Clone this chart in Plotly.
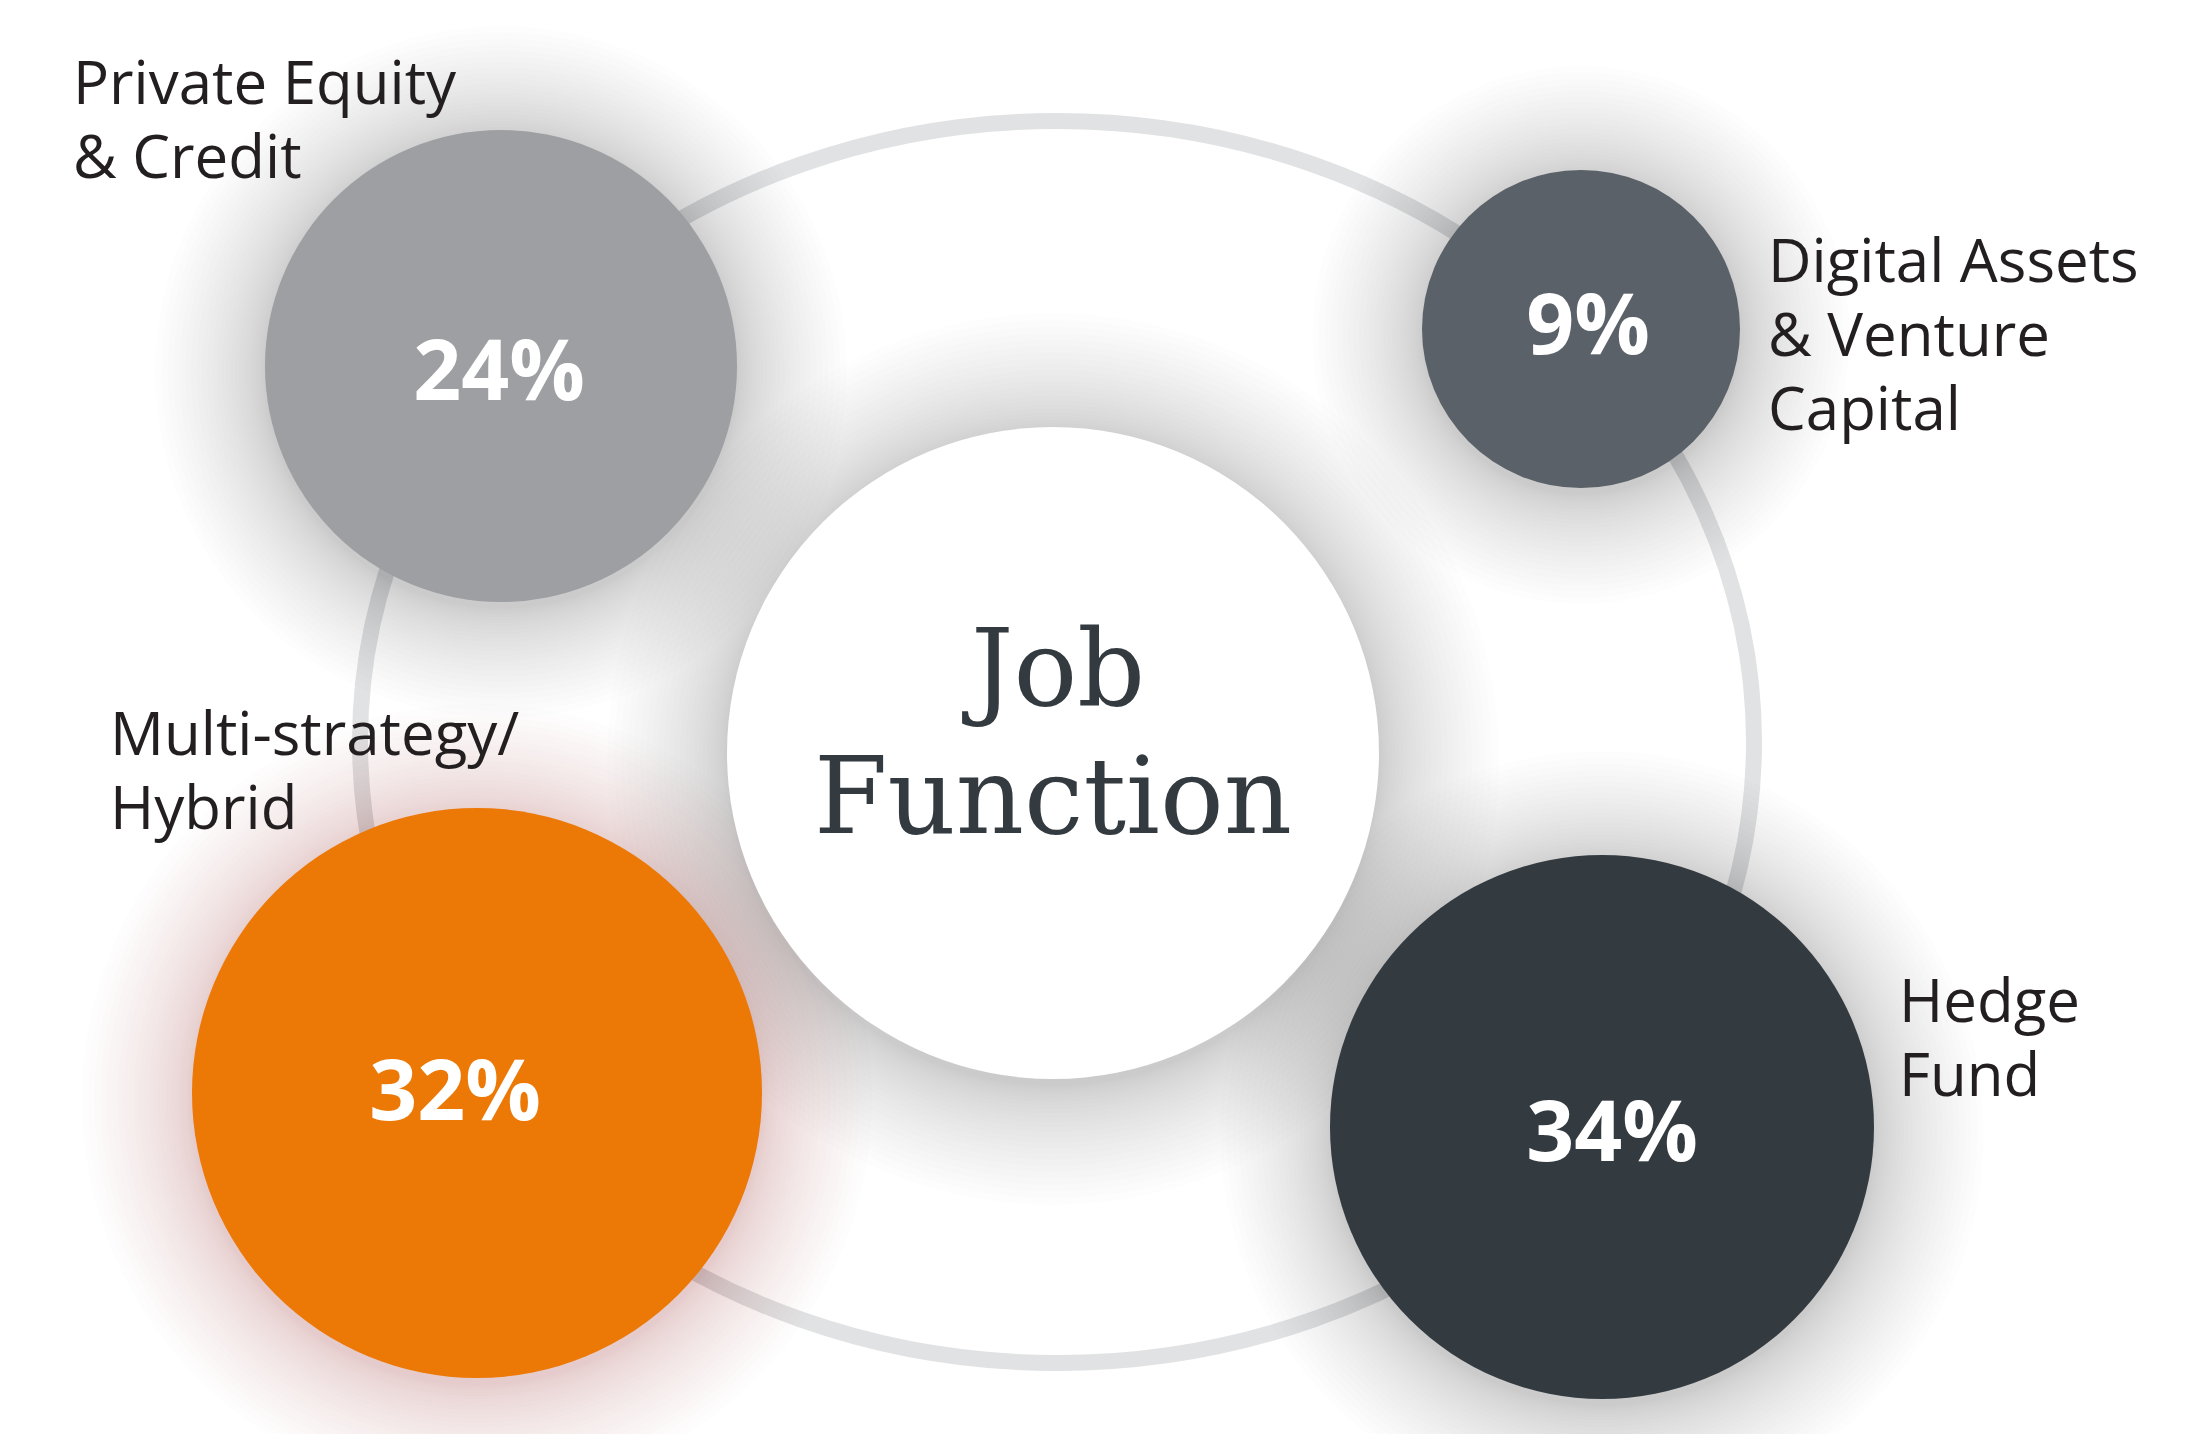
import plotly.graph_objects as go

# ---------------- data ----------------
categories = ["Private Equity<br>& Credit",
              "Digital Assets<br>& Venture<br>Capital",
              "Multi-strategy/<br>Hybrid",
              "Hedge<br>Fund"]
shares = [24, 9, 32, 34]
colors = ["#9d9fa2", "#5b6168", "#ec7806", "#343b40"]
center_title = ["Job", "Function"]

# ---------------- layout geometry (pixels, y downward) ----------------
W, H = 2201, 1434
bubble_x = [501, 1581, 477, 1602]
bubble_y = [366, 329, 1093, 1127]
bubble_r = [236, 159, 285, 272]
shadow_rgb = ["0,0,0", "0,0,0", "150,45,60", "0,0,0"]
pct_x = [499, 1588, 455, 1612]
pct_baseline = [400, 354, 1120, 1161]
label_x = [71, 1766, 108, 1897]
label_baseline = [104, 282, 755, 1022]
LINE_STEP = 74
center_x, center_y, center_r = 1053, 753, 326
ring = dict(cx=1057, cy=742, rx=697, ry=621)
title_baseline = [705, 833]

LABEL_SIZE = 60
PCT_SIZE = 84
TITLE_SIZE = 106

fig = go.Figure()
shapes = []

# ring
shapes.append(dict(type="circle", xref="x", yref="y",
                   x0=ring["cx"] - ring["rx"], x1=ring["cx"] + ring["rx"],
                   y0=ring["cy"] - ring["ry"], y1=ring["cy"] + ring["ry"],
                   line=dict(color="#e1e2e3", width=16), fillcolor="rgba(0,0,0,0)",
                   layer="below"))


def shadow(cx, cy, r, rgb, n=26, spread=110, alpha=0.0095, dy=6):
    out = []
    for k in range(n, 0, -1):
        rr = r + spread * (k / n) ** 1.5
        out.append(dict(type="circle", xref="x", yref="y",
                        x0=cx - rr, x1=cx + rr, y0=cy - rr + dy, y1=cy + rr + dy,
                        line=dict(width=0), fillcolor=f"rgba({rgb},{alpha})",
                        layer="below"))
    return out


shapes += shadow(center_x, center_y, center_r, "0,0,0", alpha=0.009, spread=120)
for i in range(len(shares)):
    a = 0.011 if i == 2 else 0.0095
    shapes += shadow(bubble_x[i], bubble_y[i], bubble_r[i], shadow_rgb[i], alpha=a)

# center white circle
shapes.append(dict(type="circle", xref="x", yref="y",
                   x0=center_x - center_r, x1=center_x + center_r,
                   y0=center_y - center_r, y1=center_y + center_r,
                   line=dict(width=0), fillcolor="#ffffff", layer="below"))
# bubbles
for i in range(len(shares)):
    shapes.append(dict(type="circle", xref="x", yref="y",
                       x0=bubble_x[i] - bubble_r[i], x1=bubble_x[i] + bubble_r[i],
                       y0=bubble_y[i] - bubble_r[i], y1=bubble_y[i] + bubble_r[i],
                       line=dict(width=0), fillcolor=colors[i], layer="below"))

# percentages
fig.add_trace(go.Scatter(
    x=pct_x, y=[b - 0.25 * PCT_SIZE for b in pct_baseline],
    mode="text", text=[f"{v}%" for v in shares], textposition="middle center",
    textfont=dict(family="Open Sans", size=PCT_SIZE, color="#ffffff", weight=700),
    hoverinfo="skip", showlegend=False, cliponaxis=False))

annotations = []
for i, cat in enumerate(categories):
    for j, line in enumerate(cat.split("<br>")):
        annotations.append(dict(
            x=label_x[i], y=label_baseline[i] + j * LINE_STEP - 0.388 * LABEL_SIZE,
            xref="x", yref="y", text=line, showarrow=False,
            xanchor="left", yanchor="middle", align="left",
            font=dict(family="Open Sans", size=LABEL_SIZE, color="#231f20")))

for j, line in enumerate(center_title):
    annotations.append(dict(
        x=center_x, y=title_baseline[j] - 0.346 * TITLE_SIZE,
        xref="x", yref="y", text=line, showarrow=False,
        xanchor="center", yanchor="middle",
        font=dict(family="DejaVu Serif", size=TITLE_SIZE, color="#343b40")))

fig.update_layout(
    width=W, height=H, margin=dict(l=0, r=0, t=0, b=0),
    paper_bgcolor="#ffffff", plot_bgcolor="#ffffff",
    xaxis=dict(range=[0, W], visible=False, fixedrange=True, showgrid=False, zeroline=False),
    yaxis=dict(range=[H, 0], visible=False, fixedrange=True, showgrid=False, zeroline=False),
    shapes=shapes, annotations=annotations, showlegend=False,
)

fig.write_html("out.html", config={"displayModeBar": False},
               post_script="document.body.style.margin='0';document.body.style.overflow='hidden';")
